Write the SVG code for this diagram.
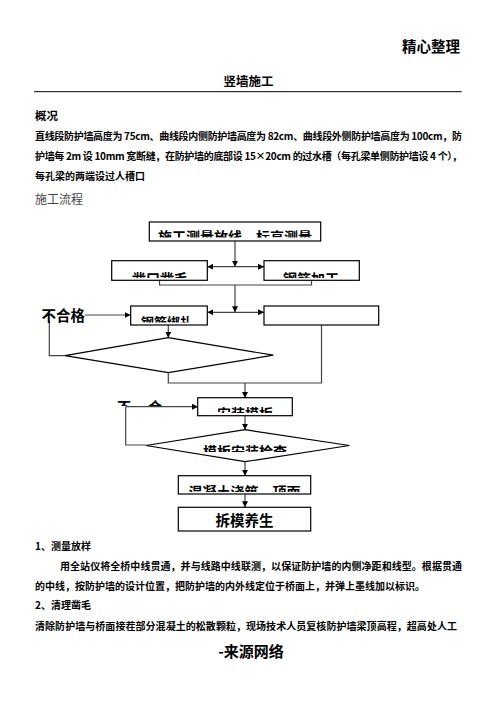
<svg xmlns="http://www.w3.org/2000/svg" width="496" height="702" viewBox="0 0 496 702">
<style>
text{font-family:"Noto Sans CJK SC","Noto Sans CJK JP",sans-serif;fill:#000}
.b{font-weight:bold}
.body{font-size:10px;font-weight:bold}
.box{fill:#fff;stroke:#000;stroke-width:1.2}
.con{fill:none;stroke:#444;stroke-width:1.2}
.ft{font-size:14px;font-weight:bold;text-anchor:middle}
</style>
<defs>
<marker id="ah" viewBox="0 0 10 10" refX="10" refY="5" markerWidth="6" markerHeight="6" orient="auto" markerUnits="userSpaceOnUse">
<path d="M0,0 L10,5 L0,10 z" fill="#000"/>
</marker>
<marker id="as" viewBox="0 0 10 10" refX="0" refY="5" markerWidth="6" markerHeight="6" orient="auto" markerUnits="userSpaceOnUse">
<path d="M10,0 L0,5 L10,10 z" fill="#000"/>
</marker>
<clipPath id="c1"><rect x="149" y="222" width="172" height="15.5"/></clipPath>
<clipPath id="c2"><rect x="112" y="261" width="95" height="17"/></clipPath>
<clipPath id="c3"><rect x="264" y="261" width="95" height="17"/></clipPath>
<clipPath id="c4"><rect x="131" y="306" width="76" height="16.5"/></clipPath>
<clipPath id="c5"><rect x="198" y="398" width="94" height="15"/></clipPath>
<clipPath id="c6"><rect x="146" y="430" width="204" height="22"/></clipPath>
<clipPath id="c7"><rect x="178" y="476" width="133" height="16"/></clipPath>
<clipPath id="c8"><rect x="100" y="390" width="80" height="16"/></clipPath>
</defs>

<g id="header">
<text x="460" y="52" class="b" font-size="14.5" text-anchor="end">精心整理</text>
<text x="248.5" y="86" class="b" font-size="12.5" text-anchor="middle">竖墙施工</text>
<line x1="34" y1="91.7" x2="461.7" y2="91.7" stroke="#000" stroke-width="1"/>
<text x="35" y="120" class="b" font-size="11.5">概况</text>
<text x="35" y="140" class="body" textLength="427" lengthAdjust="spacing">直线段防护墙高度为 75cm、曲线段内侧防护墙高度为 82cm、曲线段外侧防护墙高度为 100cm，防</text>
<text x="35" y="159.5" class="body" textLength="427" lengthAdjust="spacing">护墙每 2m 设 10mm 宽断缝，在防护墙的底部设 15×20cm 的过水槽（每孔梁单侧防护墙设 4 个），</text>
<text x="35" y="179.5" class="body">每孔梁的两端设过人槽口</text>
<text x="35" y="204" font-size="12" fill="#444" style="fill:#444">施工流程</text>
</g>

<g id="connectors">
<line class="con" x1="235" y1="241" x2="235" y2="266.7" marker-end="url(#ah)"/>
<line class="con" x1="207.3" y1="266.7" x2="264" y2="266.7" marker-start="url(#as)" marker-end="url(#ah)"/>
<polyline class="con" points="159.5,280.3 159.5,285 311.5,285 311.5,280.3"/>
<line class="con" x1="235" y1="285" x2="235" y2="312.3" marker-end="url(#ah)"/>
<line class="con" x1="207.3" y1="312.3" x2="264" y2="312.3" marker-start="url(#as)" marker-end="url(#ah)"/>
<polyline class="con" points="85,315 130.7,315" marker-end="url(#ah)"/>
<polyline class="con" points="65,355.7 49.3,355.7 49.3,321"/>
<line class="con" x1="168.3" y1="325" x2="168.3" y2="337.7" marker-end="url(#ah)"/>
<polyline class="con" points="168.3,372.7 168.3,383 321.5,383 321.5,325"/>
<line class="con" x1="245" y1="383" x2="245" y2="398" marker-end="url(#ah)"/>
<polyline class="con" points="125.7,406.7 198,406.7" marker-end="url(#ah)"/>
<polyline class="con" points="146,445 125.7,445 125.7,406.7"/>
<line class="con" x1="245" y1="416" x2="245" y2="429.7" marker-end="url(#ah)"/>
<line class="con" x1="245" y1="461.7" x2="245" y2="475.7" marker-end="url(#ah)"/>
<line class="con" x1="245" y1="494" x2="245" y2="507.3" marker-end="url(#ah)"/>
</g>

<g id="n1">
<rect class="box" x="149.3" y="222" width="171.4" height="19"/>
<text class="ft" x="235" y="242" clip-path="url(#c1)">施工测量放线、标高测量</text>
</g>
<g id="n2">
<rect class="box" x="111.7" y="260.7" width="95.6" height="19.6"/>
<text class="ft" x="160" y="284" clip-path="url(#c2)">凿口凿毛</text>
</g>
<g id="n3">
<rect class="box" x="264" y="260.7" width="95.3" height="19.6"/>
<text class="ft" x="311" y="284" clip-path="url(#c3)">钢筋加工</text>
</g>
<g id="n4">
<rect class="box" x="130.7" y="306" width="76.6" height="19"/>
<text class="ft" x="167" y="327" font-size="13" style="font-size:13px" clip-path="url(#c4)">钢筋绑扎</text>
</g>
<g id="n5">
<rect class="box" x="264" y="306" width="114.7" height="19"/>
</g>
<g id="n6">
<polygon class="box" points="168.3,337.7 273.3,355.2 168.3,372.7 65,355.7"/>
</g>
<g id="lbl1">
<text x="41.5" y="321" class="b" font-size="14.5">不合格</text>
</g>
<g id="lbl2" clip-path="url(#c8)">
<text x="117" y="412" class="b" font-size="14">不</text>
<text x="148" y="412" class="b" font-size="14">合</text>
</g>
<g id="n7">
<rect class="box" x="197.7" y="397.7" width="94.6" height="18"/>
<text class="ft" x="245" y="419" clip-path="url(#c5)">安装模板</text>
</g>
<g id="n8">
<polygon class="box" points="245,429.7 349.3,445.5 245,461.7 146,445.5"/>
<text class="ft" x="245" y="457" clip-path="url(#c6)">模板安装检查</text>
</g>
<g id="n9">
<rect class="box" x="178.3" y="475.7" width="132.4" height="18.3"/>
<text class="ft" x="244.5" y="497" clip-path="url(#c7)">混凝土浇筑、顶面</text>
</g>
<g id="n10">
<rect class="box" x="178.3" y="507.3" width="132.4" height="23.7"/>
<text class="ft" x="244.5" y="525.5" style="font-size:14.5px">拆模养生</text>
</g>

<g id="body">
<text x="35" y="550" class="body">1、测量放样</text>
<text x="60" y="570" class="body" textLength="402" lengthAdjust="spacing">用全站仪将全桥中线贯通，并与线路中线联测，以保证防护墙的内侧净距和线型。根据贯通</text>
<text x="35" y="589.5" class="body">的中线，按防护墙的设计位置，把防护墙的内外线定位于桥面上，并弹上墨线加以标识。</text>
<text x="35" y="609" class="body">2、清理凿毛</text>
<text x="35" y="630" class="body" textLength="422" lengthAdjust="spacing">清除防护墙与桥面接茬部分混凝土的松散颗粒，现场技术人员复核防护墙梁顶高程，超高处人工</text>
<text x="251" y="657" class="b" font-size="15" text-anchor="middle">-来源网络</text>
</g>
</svg>
